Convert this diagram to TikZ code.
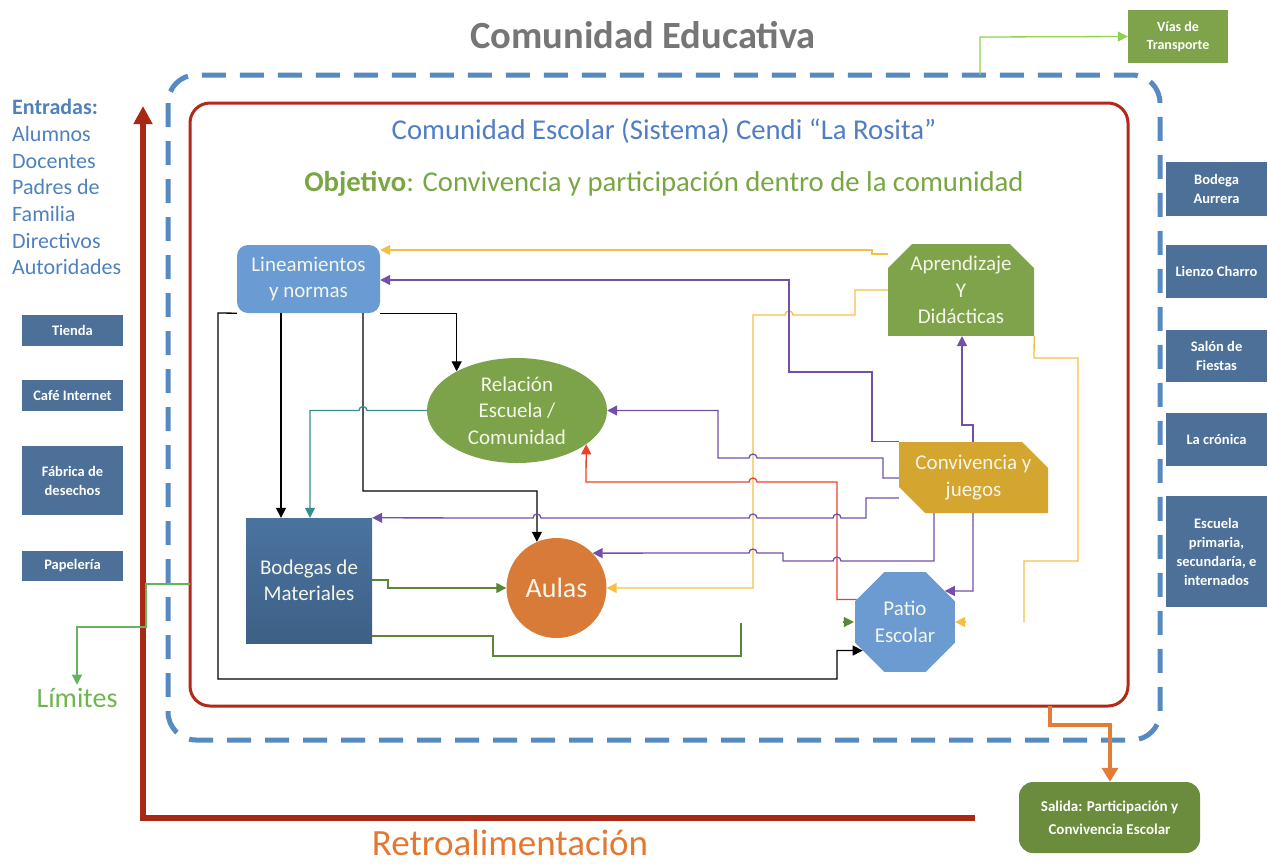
\documentclass[tikz,border=0pt]{standalone}
\usepackage{fontspec}
\setmainfont{Carlito}
\usetikzlibrary{arrows.meta,shapes.misc,shapes.geometric}
\definecolor{dashblue}{RGB}{88,138,194}
\definecolor{redrect}{RGB}{178,40,25}
\definecolor{fbred}{RGB}{168,40,20}
\definecolor{titlegray}{RGB}{118,118,118}
\definecolor{txtblue}{RGB}{79,129,189}
\definecolor{schoolblue}{RGB}{80,125,195}
\definecolor{objgreen}{RGB}{121,166,66}
\definecolor{linfill}{RGB}{106,155,210}
\definecolor{relfill}{RGB}{125,163,74}
\definecolor{bodtop}{RGB}{74,115,160}
\definecolor{bodbot}{RGB}{62,96,134}
\definecolor{aulfill}{RGB}{217,123,56}
\definecolor{aprfill}{RGB}{126,163,74}
\definecolor{confill}{RGB}{212,165,47}
\definecolor{patfill}{RGB}{107,155,208}
\definecolor{sideblue}{RGB}{77,112,152}
\definecolor{salfill}{RGB}{106,140,60}
\definecolor{viasfill}{RGB}{127,163,74}
\definecolor{yel}{RGB}{245,192,66}
\definecolor{pur}{RGB}{112,80,168}
\definecolor{redl}{RGB}{235,65,45}
\definecolor{tealc}{RGB}{55,140,140}
\definecolor{grn}{RGB}{90,135,55}
\definecolor{lgrn}{RGB}{146,208,80}
\definecolor{limline}{RGB}{100,180,90}
\definecolor{orng}{RGB}{226,124,56}
\definecolor{retro}{RGB}{228,120,50}
\definecolor{limgreen}{RGB}{110,180,80}
\definecolor{nodewhite}{RGB}{245,245,232}
\begin{document}
\begin{tikzpicture}[x=1pt,y=-1pt,
  >={Triangle[length=10pt,width=10pt]},
  nodetext/.style={text=nodewhite, align=center, inner sep=0pt, font=\fontsize{21}{26.5}\selectfont},
  sidebox/.style={fill=sideblue, text=white, align=center, inner sep=0pt, minimum width=101pt, font=\bfseries\fontsize{14.5}{19}\selectfont},
  conn/.style={line width=1.3pt},
  blk/.style={conn,draw=black}
]
\useasboundingbox (0,0) rectangle (1268,863);

% titles
\node[font=\bfseries\fontsize{38.5}{42}\selectfont, text=titlegray] (title) at (643,35) {Comunidad Educativa};
\node[font=\fontsize{28.7}{32}\selectfont, text=schoolblue] (school) at (664,131) {Comunidad Escolar (Sistema) Cendi “La Rosita”};
\node[font=\fontsize{28.7}{32}\selectfont, text=objgreen] (obj) at (664,184) {\textbf{Objetivo}: Convivencia y participación dentro de la comunidad};

% frames
\draw[dashblue, line width=5pt, dash pattern=on 24pt off 14pt, rounded corners=28pt] (168,75) rectangle (1160,740);
\draw[redrect, line width=3pt, rounded corners=20pt] (190,103) rectangle (1128,706);

% entradas
\node[anchor=north west, align=left, inner sep=0pt, text=txtblue, font=\fontsize{22}{26.7}\selectfont] (entr) at (12,99)
  {\textbf{Entradas:}\\Alumnos\\Docentes\\Padres de\\Familia\\Directivos\\Autoridades};

% side boxes left
\node[sidebox, minimum height=31pt] (tienda) at (72.5,330.5) {Tienda};
\node[sidebox, minimum height=31pt] (cafe) at (72.5,395.5) {Café Internet};
\node[sidebox, minimum height=69pt] (fab) at (72.5,480.5) {Fábrica de\\desechos};
\node[sidebox, minimum height=30pt] (pap) at (72.5,566) {Papelería};
% side boxes right
\node[sidebox, minimum height=54pt] (aurr) at (1216.5,189) {Bodega\\Aurrera};
\node[sidebox, minimum height=53pt] (lienzo) at (1216.5,271.5) {Lienzo Charro};
\node[sidebox, minimum height=52pt] (salon) at (1216.5,356) {Salón de\\Fiestas};
\node[sidebox, minimum height=53pt] (cron) at (1216.5,439.5) {La crónica};
\node[sidebox, minimum height=111pt] (esc) at (1216.5,551.5) {Escuela\\primaria,\\secundaría, e\\internados};
\node[sidebox, fill=viasfill, minimum width=100pt, minimum height=53pt, font=\bfseries\fontsize{14}{18}\selectfont] (vias) at (1178,36.5) {Vías de\\Transporte};
\node[sidebox, fill=salfill, rounded corners=14pt, minimum width=181pt, minimum height=71pt, font=\bfseries\fontsize{15}{23}\selectfont] (sal) at (1109.5,817.5) {Salida: Participación y\\Convivencia Escolar};

% main nodes
\node[nodetext, fill=linfill, rounded corners=11pt, minimum width=143pt, minimum height=68pt] (lin) at (308.5,279) {Lineamientos\\y normas};
\node[nodetext, ellipse, fill=relfill, minimum width=180pt, minimum height=105pt] (rel) at (517,410.5) {Relación\\Escuela /\\Comunidad};
\node[nodetext, top color=bodtop, bottom color=bodbot, minimum width=126pt, minimum height=125pt] (bod) at (309,580.5) {Bodegas de\\Materiales};
\node[nodetext, circle, fill=aulfill, minimum size=100pt, font=\fontsize{28}{32}\selectfont] (aul) at (556.5,588) {Aulas};
\node[nodetext, chamfered rectangle, chamfered rectangle corners={north west,north east}, chamfered rectangle xsep=12pt, chamfered rectangle ysep=12pt, fill=aprfill, minimum width=146pt, minimum height=90pt] (apr) at (961,290) {Aprendizaje\\Y\\Didácticas};
\node[nodetext, chamfered rectangle, chamfered rectangle corners={north east,south west}, chamfered rectangle xsep=13pt, chamfered rectangle ysep=13pt, fill=confill, minimum width=149pt, minimum height=71pt] (con) at (973.5,477.5) {Convivencia y\\juegos};
\node[nodetext, regular polygon, regular polygon sides=8, fill=patfill, minimum size=108pt] (pat) at (905,622) {Patio\\Escolar};

% black connectors
\draw[blk,->] (lin.south west) -- (218,313) -- (218,679) -- (837,679) |- (pat.214);
\draw[blk,->] (281,0 |- lin.south) -- (281,0 |- bod.north);
\draw[blk,->] (363,0 |- lin.south) -- (363,491) -- (537,491) -- (aul.113);
\draw[blk,->] (lin.south east) -| (rel.147);

% teal
\draw[conn,tealc,->] (rel.west) -- (367,410.5) arc[start angle=0,end angle=-180,radius=4] -- (310,410.5) -- (310,0 |- bod.north);

% yellow
\draw[conn,yel,->] (apr.west |- 0,254) -- (872,254) -- (872,250) -- (lin.east |- 0,250);
\draw[conn,yel,->] (apr.west |- 0,290) -- (855,290) -- (855,315) -- (793,315) arc[start angle=0,end angle=-180,radius=4] -- (753,315) -- (753,0 |- aul.east) -- (aul.east);
\draw[conn,yel] (apr.east |- apr.south) -- (1034,358) -- (1078,358) -- (1078,561) -- (1024,561) -- (1024,622);
\draw[conn,yel,->] ([xshift=11pt]pat.east) -- (pat.east);

% green
\draw[conn,grn,->] (bod.east |- 0,580) -- (388,580) -- (388,0 |- aul.west) -- (aul.west);
\draw[conn,grn] (bod.east |- 0,636) -- (493,636) -- (493,656) -- (741,656) -- (741,623);
\draw[conn,grn,->] ([xshift=-12pt]pat.west) -- ([xshift=-1pt]pat.west);

% red
\draw[conn,redl,->] (pat.155) -| (837,482) -- (757,482) arc[start angle=0,end angle=-180,radius=4] -- (586,482) -- (rel.334);

% purple
\draw[conn,pur,->] (con.west |- con.north) -- (872,0 |- con.north) -- (872,372) -- (789,372) -- (789,280) -- (lin.east |- 0,280);
\draw[conn,pur,->] (con.west |- 0,478) -- (883,478) -- (883,458) -- (757,458) arc[start angle=0,end angle=-180,radius=4] -- (718,458) -- (718,0 |- rel.east) -- (rel.east);
\draw[conn,pur,->] (con.west |- 0,498) -- (866,498) -- (866,518) -- (841,518) arc[start angle=0,end angle=-180,radius=4] -- (757,518) arc[start angle=0,end angle=-180,radius=4] -- (541,518) arc[start angle=0,end angle=-180,radius=4] -- (bod.north east);
\draw[conn,pur,->] (934,0 |- con.south) -- (934,561) -- (841,561) arc[start angle=0,end angle=-180,radius=4] -- (783,561) -- (783,553) -- (757,553) arc[start angle=0,end angle=-180,radius=4] -- (aul.44);
\draw[conn,pur,->] (973,0 |- con.south) -- (973,591) -- (pat.38);
\draw[conn,pur,->] (973,0 |- con.north) -- (973,425) -- (962,425) -- (962,0 |- apr.south);

% output
\coordinate (outA) at (1050,706);
\draw[orng,line width=4pt,-{Triangle[length=14pt,width=16pt]}] (outA) -- (1050,725) -- (1110,725) -- (1110,0 |- sal.north);

% vias
\coordinate (viasA) at (980,75);
\draw[conn,lgrn,->] (viasA) -- (980,37) -- (vias.west);

% feedback
\coordinate (fbA) at (975,818);
\draw[fbred,line width=5.5pt,-{Triangle[length=18pt,width=18pt]}] (fbA) -- (143,818) -- (143,106);
\node[anchor=base, inner sep=0pt, font=\fontsize{37}{40}\selectfont, text=retro] (retroT) at (510,855) {Retroalimentación};

% limites
\node[font=\fontsize{28}{30}\selectfont, text=limgreen] (lim) at (77,698) {Límites};
\coordinate (limA) at (190,584);
\draw[conn,limline,->] (limA) -- (146,584) -- (146,627) -- (77,627) -- (lim.north);
\end{tikzpicture}
\end{document}
